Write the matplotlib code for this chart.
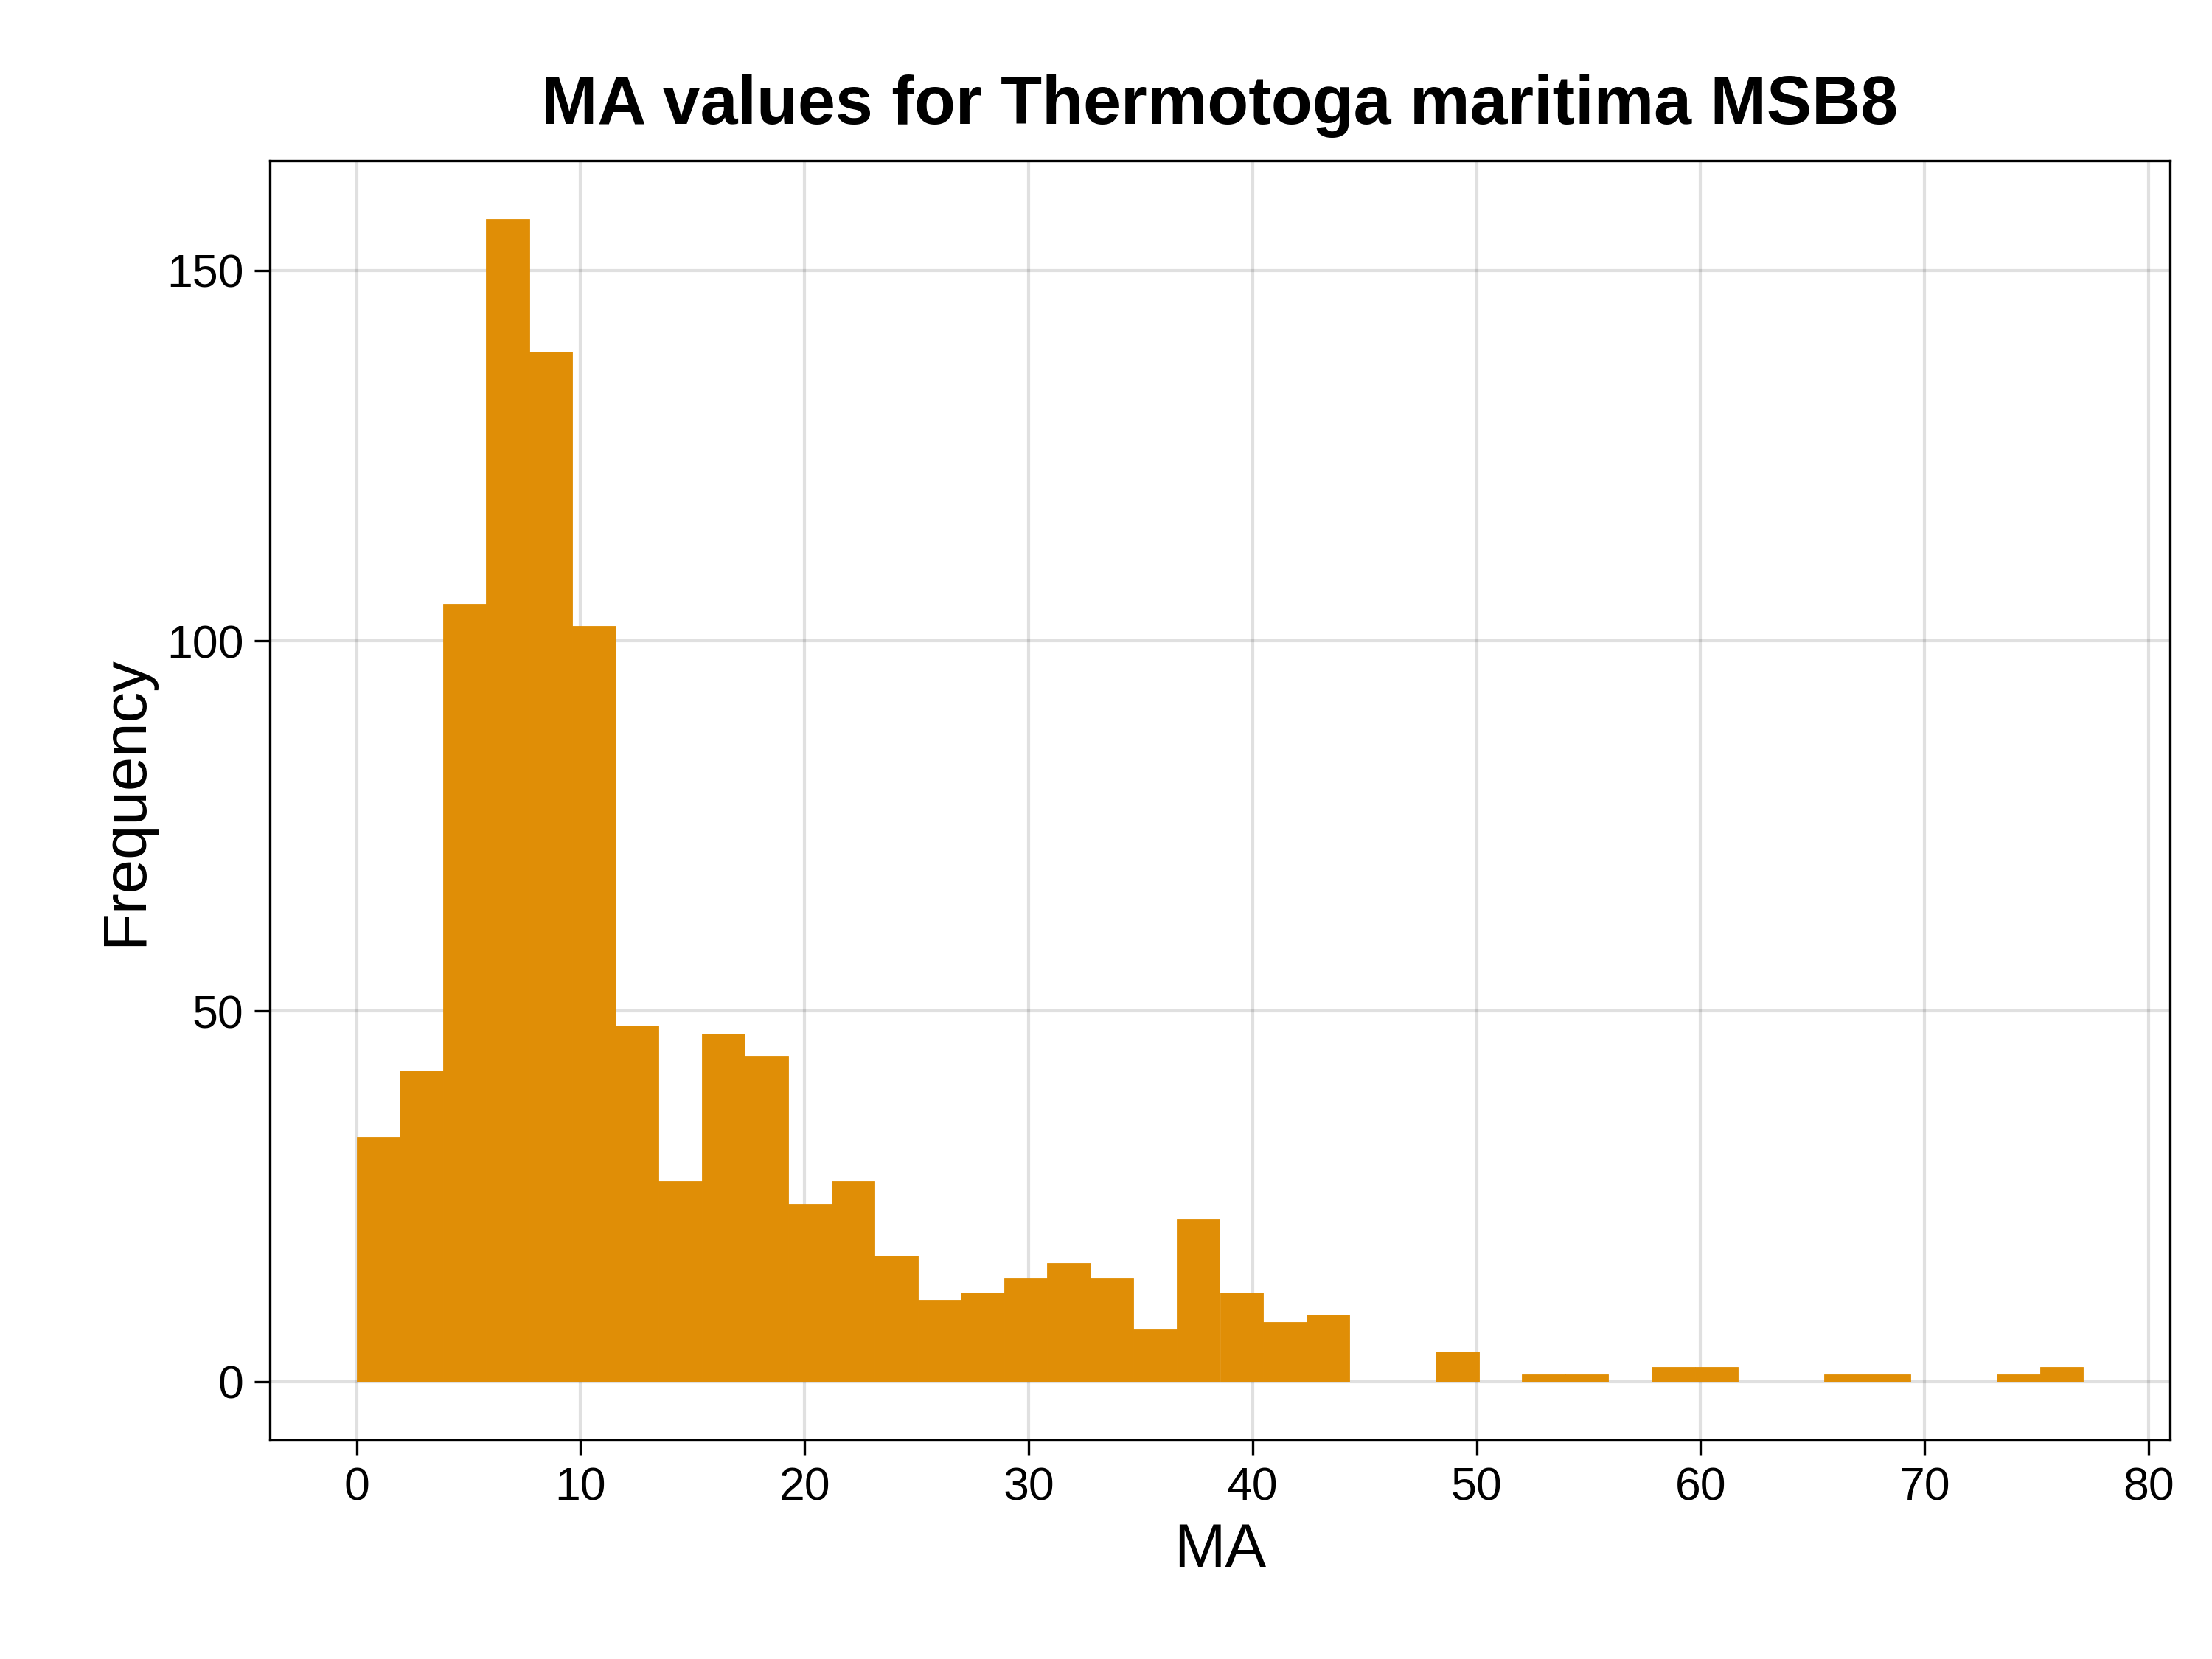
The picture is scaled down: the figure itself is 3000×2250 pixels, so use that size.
import numpy as np
import matplotlib
matplotlib.use("Agg")
import matplotlib.pyplot as plt

plt.rcParams['font.family'] = ['Liberation Sans', 'DejaVu Sans']

bin_start = 0.0
bin_width = 77.08 / 40
counts = [33, 42, 105, 157, 139, 102, 48, 27, 47, 44,
          24, 27, 17, 11, 12, 14, 16, 14, 7, 22,
          12, 8, 9, 0, 0, 4, 0, 1, 1, 0,
          2, 2, 0, 0, 1, 1, 0, 0, 1, 2]
edges = bin_start + bin_width * np.arange(len(counts) + 1)
centers = (edges[:-1] + edges[1:]) / 2

fig = plt.figure(figsize=(10, 7.5), dpi=300)
ax = fig.add_axes([0.122, 0.132, 0.859, 0.771])
ax.hist(centers, bins=edges, weights=counts, color='#E08E06', edgecolor='#E08E06', linewidth=0.2)
ax.set_xlim(-3.87, 80.95)
ax.set_ylim(-7.9, 164.8)
ax.set_xticks(np.arange(0, 81, 10))
ax.set_yticks([0, 50, 100, 150])
ax.grid(True, color='black', alpha=0.12, linewidth=1)
ax.set_axisbelow(True)
ax.tick_params(labelsize=15, length=5)
ax.set_xlabel('MA', fontsize=20)
ax.set_ylabel('Frequency', fontsize=20)
ax.set_title('MA values for Thermotoga maritima MSB8', fontsize=22, fontweight='bold', pad=12)
fig.savefig('out.png')
